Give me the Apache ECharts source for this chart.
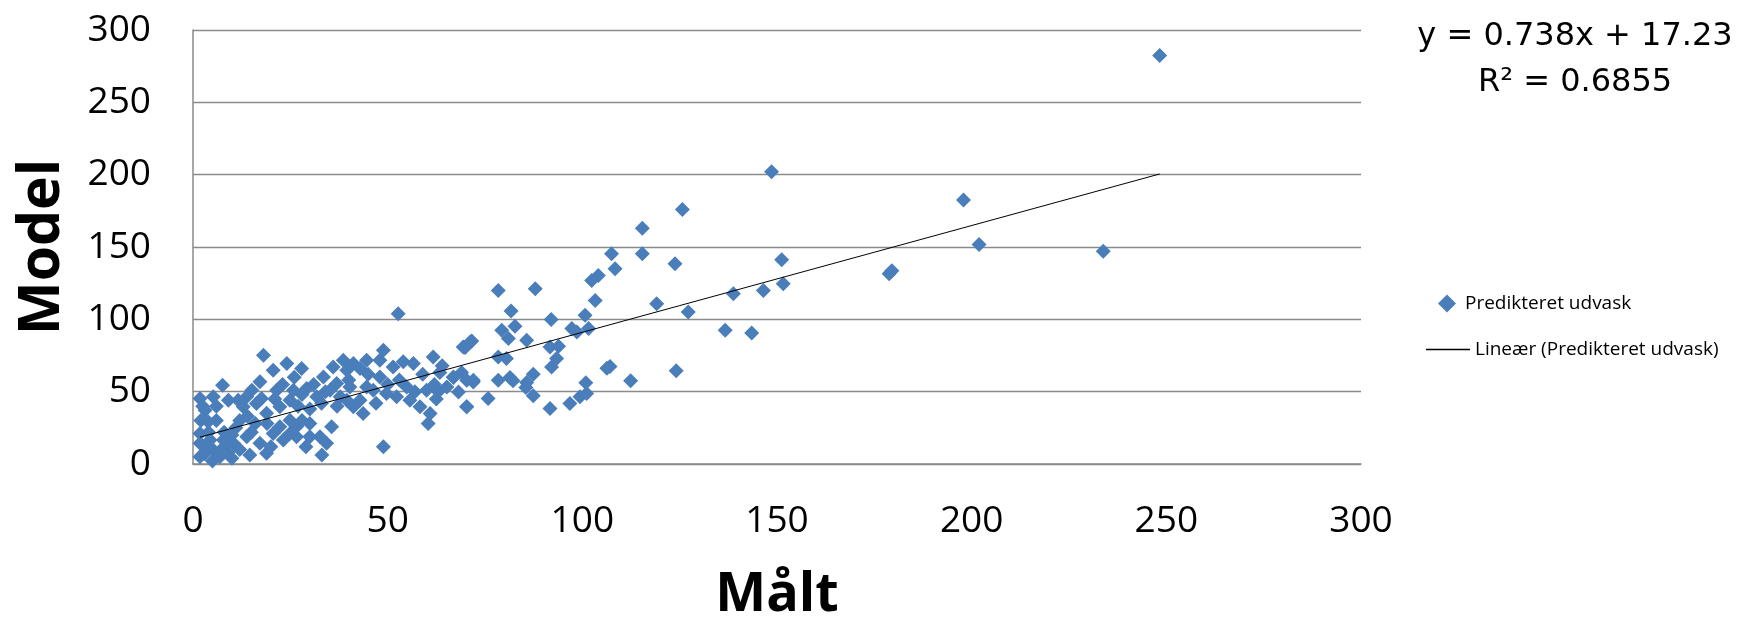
<!DOCTYPE html>
<html>
<head>
<meta charset="utf-8">
<script src="https://cdn.jsdelivr.net/npm/echarts@6/dist/echarts.min.js"></script>
<style>
  html, body { margin: 0; padding: 0; background: #fff; }
  #chart { width: 1741px; height: 617px; }
</style>
</head>
<body>
<div id="chart"></div>
<script>
const maalt = [
  18.1, 7.6, 20.6, 24.1, 27.9, 17.2, 15.1, 1.8, 5.2, 9.1, 3.1, 3.9, 1.8, 1.8, 5.2, 7.8,
  10.4, 13.8, 14.6, 18.9, 17.2, 20.6, 22.3, 24.9, 23.2, 24.9, 18.9, 16.3, 12.9, 11.6, 13.8, 17.6,
  21.5, 24.9, 22.3, 25.8, 29.2, 31.8, 32.6, 35.6, 34.3, 33.1, 30, 26.6, 26.6, 48.9, 33.5, 36,
  38.6, 39.5, 41.2, 42.9, 44.6, 36.9, 35.2, 37.8, 39.5, 41.2, 43.7, 42.9, 44.6, 48, 48.9, 48,
  51.4, 54, 56.6, 49.7, 52.3, 55.7, 58.3, 60.4, 60.9, 61.7, 60, 69.4, 71.2, 66.9, 70.3, 72,
  70.3, 65.2, 54.9, 46.3, 40.3, 52.7, 1.8, 4.4, 6.9, 9, 3, 8, 11, 6, 12, 16,
  28, 29, 20, 27, 30, 33, 14, 2.5, 62.5, 63,
  2, 4, 6, 8, 10, 12, 15, 19, 21, 23, 26, 28, 30, 31, 34, 37,
  40, 45, 47, 50, 53, 57, 59, 62, 64, 5, 10, 3,
  107.5, 108.4, 115.4, 123.8, 151.2, 151.6, 146.5, 138.8, 136.7, 143.5, 127.2, 119.1, 124.1, 112.4, 104.1, 102.4,
  103.3, 100.7, 101.6, 97.3, 98.6, 92, 87.9, 78.4, 81.7, 82.7, 79.3, 81, 85.7, 91.7, 93.9, 93.4,
  92.1, 78.4, 80.5, 69.9, 71.6, 69, 66.9, 68.2, 72, 70.3, 75.8, 78.4, 81.4, 82.2, 85.7, 87.4,
  87.4, 85.5, 91.7, 96.8, 99.4, 101.1, 100.9, 106.3, 107.1, 63.4,
  248.3, 148.6, 197.9, 201.9, 233.8, 178.8, 179.5, 115.4, 125.7
];
const model = [
  75.2, 54.5, 64.8, 69.4, 66, 56.8, 51, 45.3, 46.4, 44.1, 37.2, 29.2, 21.1, 5, 9.7, 16.6,
  14.3, 18.9, 6.2, 7.4, 14.3, 21.1, 25.7, 30.3, 16.6, 21.1, 35, 41.8, 39.5, 44.1, 46.4, 45.3,
  51, 44.1, 39.5, 51, 52.2, 46.4, 18.9, 25.7, 14.3, 6.2, 18.9, 18.9, 25.7, 12, 60.2, 67.1,
  71.7, 64.8, 69.4, 66, 71.7, 55.6, 51, 46.4, 44.1, 39.5, 34.9, 44.1, 53.3, 60.2, 78.6, 71.7,
  67.1, 70.6, 69.4, 48.7, 46.4, 44.1, 39.5, 28, 34.9, 74, 51, 80.9, 84.4, 60.2, 57.9, 57.9,
  39.5, 53.3, 53.3, 51, 53.3, 103.9, 14.3, 16.6, 5, 8, 12, 22, 25, 30, 10, 28,
  30, 12, 12, 40, 38, 42, 33, 40, 45, 50,
  30, 22, 40, 12, 20, 30, 22, 28, 45, 55, 60, 48, 28, 55, 50, 40,
  58, 62, 42, 55, 58, 50, 62, 55, 68, 2, 4, 7,
  145.3, 134.9, 145.3, 138.4, 141.2, 124.6, 120, 117.7, 92.4, 90.6, 105.1, 110.8, 64.4, 57.5, 130.3, 126.9,
  113.1, 102.8, 93.6, 93.6, 91.3, 99.8, 121.2, 120, 105.7, 95.2, 92.4, 86.7, 85.5, 80.9, 81.4, 72.9,
  67.1, 73.9, 72.9, 80.5, 85.1, 63.2, 59.8, 49.7, 56.6, 39.6, 45.3, 57.9, 59.8, 57.5, 56.3, 62.1,
  47.1, 52.9, 38.4, 41.8, 46.4, 48.7, 56.1, 66.2, 67.4, 63.2,
  282.4, 202, 182.5, 151.8, 147.1, 131.5, 133.5, 163, 176
];
const axisTicks = [0, 50, 100, 150, 200, 250, 300];
const slope = 0.738;
const intercept = 17.23;
const r2 = 0.6855;

const points = maalt.map((x, i) => [x, model[i]]);
const xMin = Math.min(...maalt);
const xMax = Math.max(...maalt);
const trend = [[xMin, slope * xMin + intercept], [xMax, slope * xMax + intercept]];

const chart = echarts.init(document.getElementById('chart'));
const gridColor = '#8a8a8a';
const legendText = { fontFamily: 'Open Sans', fontSize: 19, color: '#000' };
chart.setOption({
  animation: false,
  backgroundColor: '#fff',
  grid: { left: 193, right: 380, top: 30, bottom: 153, outerBoundsMode: 'none', containLabel: false },
  xAxis: {
    type: 'value',
    min: axisTicks[0],
    max: axisTicks[axisTicks.length - 1],
    interval: 50,
    name: 'Målt',
    nameLocation: 'middle',
    nameGap: 105,
    nameTextStyle: { fontFamily: 'Open Sans', fontWeight: 'bold', fontSize: 54, color: '#000' },
    axisLine: { show: true, lineStyle: { color: gridColor, width: 1.5 } },
    axisTick: { show: false },
    splitLine: { show: false },
    axisLabel: { fontFamily: 'Open Sans', fontSize: 37, color: '#000', margin: 39 }
  },
  yAxis: {
    type: 'value',
    min: axisTicks[0],
    max: axisTicks[axisTicks.length - 1],
    interval: 50,
    name: 'Model',
    nameLocation: 'middle',
    nameGap: 122,
    nameTextStyle: { fontFamily: 'Open Sans', fontWeight: 'bold', fontSize: 57, color: '#000' },
    axisLine: { show: true, lineStyle: { color: gridColor, width: 1.5 } },
    axisTick: { show: false },
    splitLine: { lineStyle: { color: gridColor, width: 1.3 } },
    axisLabel: { fontFamily: 'Open Sans', fontSize: 37, color: '#000', margin: 42 }
  },
  legend: [
    {
      left: 1433,
      top: 289,
      itemWidth: 18,
      itemHeight: 18,
      textStyle: Object.assign({ padding: [0, 0, 0, 4] }, legendText),
      data: [{ name: 'Predikteret udvask', icon: 'diamond' }]
    },
    {
      left: 1421,
      top: 335,
      itemWidth: 44,
      itemHeight: 1.5,
      textStyle: legendText,
      data: [{ name: 'Lineær (Predikteret udvask)', icon: 'rect' }]
    }
  ],
  graphic: [
    {
      type: 'text', x: 1575, y: 37,
      style: { text: 'y = ' + slope + 'x + ' + intercept, font: '32px "DejaVu Sans"', fill: '#000', textAlign: 'center', textVerticalAlign: 'middle' }
    },
    {
      type: 'text', x: 1575, y: 83,
      style: { text: 'R² = ' + r2, font: '32px "DejaVu Sans"', fill: '#000', textAlign: 'center', textVerticalAlign: 'middle' }
    }
  ],
  series: [
    {
      name: 'Predikteret udvask',
      type: 'scatter',
      symbol: 'diamond',
      symbolSize: 15,
      itemStyle: { color: '#4a7ebb', opacity: 1 },
      data: points,
      z: 2
    },
    {
      name: 'Lineær (Predikteret udvask)',
      type: 'line',
      symbol: 'none',
      lineStyle: { color: '#000', width: 1 },
      itemStyle: { color: '#000' },
      data: trend,
      z: 3
    }
  ]
});
</script>
</body>
</html>
